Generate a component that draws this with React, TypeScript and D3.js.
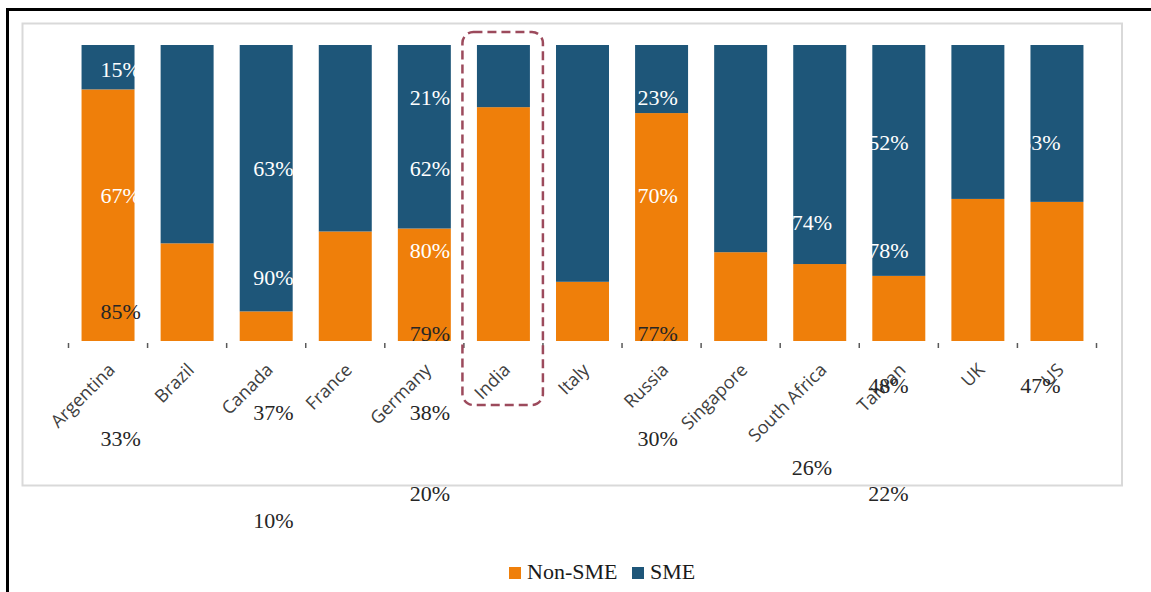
import React from 'react';
import * as d3 from 'd3';

// ---- data ----
const categories = ['Argentina', 'Brazil', 'Canada', 'France', 'Germany', 'India', 'Italy', 'Russia', 'Singapore', 'South Africa', 'Taiwan', 'UK', 'US'];
const seriesNames = ['Non-SME', 'SME'];
const nonSMEValues = [85, 33, 10, 37, 38, 79, 20, 77, 30, 26, 22, 48, 47];
const smeValues = [15, 67, 90, 63, 62, 21, 80, 23, 70, 74, 78, 52, 53];
const highlightCategory = 'India';

// Data labels as they appear in the source (shifted overlay):
// which value is shown, and where (column index on category axis, level on value axis)
const labelCategory = ['Argentina', 'Argentina', 'Brazil', 'Brazil', 'Canada', 'Canada', 'France', 'France', 'Germany', 'Germany', 'India', 'India', 'Italy', 'Italy', 'Russia', 'Russia', 'Singapore', 'Singapore', 'South Africa', 'South Africa', 'Taiwan', 'Taiwan', 'UK', 'UK', 'US', 'US'];
const labelSeries = ['SME', 'Non-SME', 'SME', 'Non-SME', 'SME', 'Non-SME', 'SME', 'Non-SME', 'SME', 'Non-SME', 'SME', 'Non-SME', 'SME', 'Non-SME', 'SME', 'Non-SME', 'SME', 'Non-SME', 'SME', 'Non-SME', 'SME', 'Non-SME', 'SME', 'Non-SME', 'SME', 'Non-SME'];
const labelColumn = [0.16, 0.16, 0.16, 0.16, 2.09, 2.09, 2.09, 2.09, 4.07, 4.07, 4.07, 4.07, 4.07, 4.07, 6.95, 6.95, 6.95, 6.95, 8.9, 8.9, 9.87, 9.87, 9.87, 9.87, 11.79, 11.79];
const labelLevel = [91.6, 9.8, 49.3, -32.8, 21.6, -60.5, 58.4, -24.0, 58.4, -24.0, 82.4, 2.4, 30.7, -51.4, 82.4, 2.4, 49.3, -32.8, 39.9, -42.6, 30.7, -51.4, 66.9, -14.9, 66.9, -14.9];

const W = 1151;
const H = 592;
const COLORS: Record<string, string> = { 'Non-SME': '#EF7F0A', SME: '#1E5679' };

export default function App() {
  const x = d3.scaleBand<string>().domain(categories).range([68.5, 1096.5]).paddingInner(0.33).paddingOuter(0.165);
  const y = d3.scaleLinear().domain([0, 100]).range([341, 45]);
  const step = x.step();
  const bw = x.bandwidth();
  const colX = d3.scaleLinear().domain([0, categories.length - 1]).range([
    (x(categories[0]) as number) + bw / 2,
    (x(categories[categories.length - 1]) as number) + bw / 2,
  ]);

  const rows = categories.map((c, i) => ({ cat: c, 'Non-SME': nonSMEValues[i], SME: smeValues[i] }));
  const stacked = d3.stack<any>().keys(seriesNames)(rows);

  const tickXs = d3.range(categories.length + 1).map((i) => x.range()[0] + i * step);

  const hx = x(highlightCategory) as number;

  const valueOf = (cat: string, s: string) => {
    const i = categories.indexOf(cat);
    return s === 'SME' ? smeValues[i] : nonSMEValues[i];
  };

  return (
    <svg width={W} height={H} style={{ position: 'absolute', left: 0, top: 0, background: '#fff' }}>
      <rect x={0} y={0} width={W} height={H} fill="#fff" />
      {/* outer black frame */}
      <rect x={7.5} y={9.5} width={1300} height={800} fill="none" stroke="#000" strokeWidth={3} />
      {/* chart area frame */}
      <rect x={22.5} y={23.5} width={1099.5} height={462} fill="#fff" stroke="#d9d9d9" strokeWidth={2} />

      {/* bars */}
      {stacked.map((layer) => (
        <g key={layer.key} fill={COLORS[layer.key]}>
          {layer.map((d: any, i: number) => (
            <rect key={i} x={x(d.data.cat)} y={y(d[1])} width={bw} height={y(d[0]) - y(d[1])} />
          ))}
        </g>
      ))}

      {/* tick marks */}
      {tickXs.map((tx, i) => (
        <line key={i} x1={tx} x2={tx} y1={343} y2={348} stroke="#595959" strokeWidth={1.5} />
      ))}

      {/* category labels */}
      {categories.map((c) => {
        const cx = (x(c) as number) + bw / 2 + 8;
        const cy = 371;
        return (
          <text key={c} x={cx} y={cy} transform={`rotate(-45 ${cx} ${cy})`} textAnchor="end" fontFamily="Open Sans" fontSize={18} fill="#404040">
            {c}
          </text>
        );
      })}

      {/* highlight box */}
      <rect x={hx - 14.5} y={32} width={bw + 27.5} height={373} rx={11} ry={11} fill="none" stroke="#9C4A5C" strokeWidth={2.5} strokeDasharray="9 5" />

      {/* data labels */}
      {labelCategory.map((c, i) => (
        <text
          key={i}
          x={colX(labelColumn[i])}
          y={y(labelLevel[i])}
          textAnchor="middle"
          dominantBaseline="central"
          fontFamily="Liberation Serif"
          fontSize={22}
          fill={labelSeries[i] === 'SME' ? '#ffffff' : '#262626'}
        >
          {valueOf(c, labelSeries[i])}%
        </text>
      ))}

      {/* legend */}
      <g transform="translate(509,567)" fontFamily="Liberation Serif" fontSize={22} fill="#1a1a1a">
        {seriesNames.map((s, i) => (
          <g key={s} transform={`translate(${i * 123},0)`}>
            <rect x={0} y={0} width={12} height={12} fill={COLORS[s]} />
            <text x={18} y={12}>{s}</text>
          </g>
        ))}
      </g>
    </svg>
  );
}
